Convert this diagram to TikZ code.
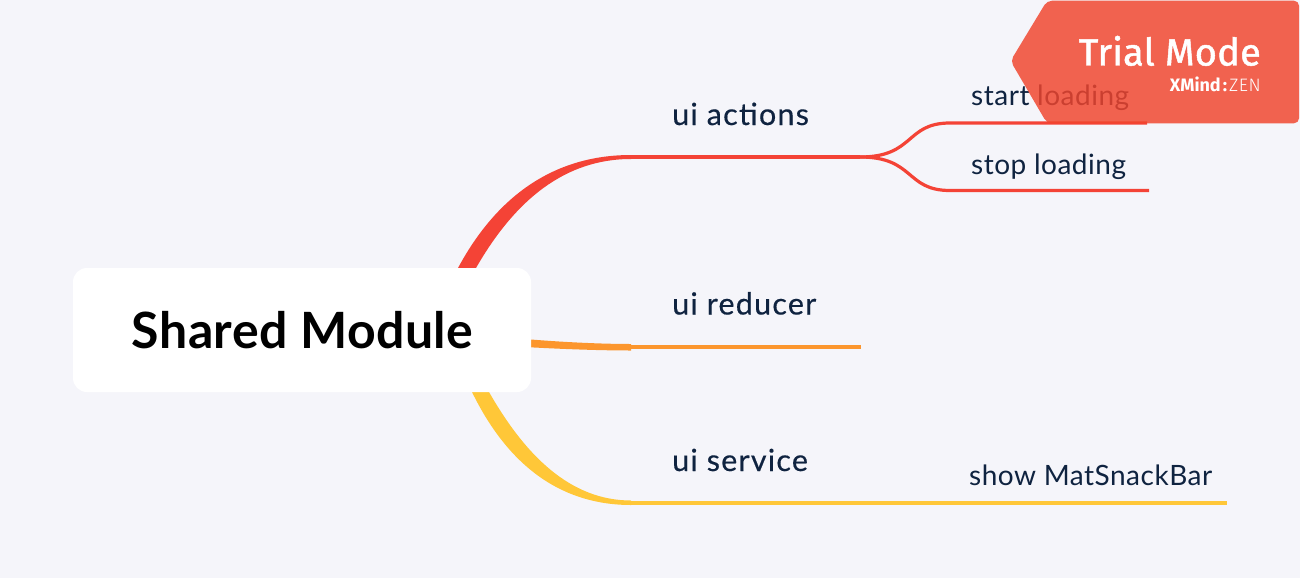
\documentclass[tikz,border=0pt]{standalone}
\usepackage{fontspec}
\setmainfont{Lato}
\newfontfamily\badgefont[FakeBold=1.3,LetterSpace=0.5]{Fira Sans}
\newfontfamily\topicfont[FakeBold=0.35,LetterSpace=4]{Lato}
\newfontfamily\subfont[LetterSpace=1.8]{Lato}
\newfontfamily\rootfont[LetterSpace=0.8]{Lato}
\definecolor{bgc}{HTML}{F5F5FA}
\definecolor{inkc}{HTML}{0F2340}
\definecolor{redc}{HTML}{F44336}
\definecolor{orangec}{HTML}{FC962D}
\definecolor{yellowc}{HTML}{FFC738}
\definecolor{badgec}{HTML}{F1452D}
\tikzset{
  px/.style={x=1pt,y=-1pt},
  topic/.style={anchor=base west,inner sep=0pt,text=inkc,font=\topicfont\fontsize{30.5}{30.5}\selectfont},
  subtopic/.style={anchor=base west,inner sep=0pt,text=inkc,font=\subfont\fontsize{28}{28}\selectfont},
  branch/.style={line width=3.2pt,line cap=butt},
}
\begin{document}
\begin{tikzpicture}[px]
\useasboundingbox (0,0) rectangle (1300,578);
\fill[bgc] (0,0) rectangle (1300,578);
% junctions
\coordinate (j1) at (631,157);
\coordinate (j2) at (631,347);
\coordinate (j3) at (631,503);
\coordinate (e2) at (861,347);
\coordinate (e3) at (1227,503);
\coordinate (fork) at (860,157);
\coordinate (e1a) at (1147,123);
\coordinate (e1b) at (1149,190.5);
% tapered main branches
\fill[redc] (458,268) .. controls (500,190) and (560,155) .. (631,155)
  -- (631,159) .. controls (565,159) and (515,200) .. (476,268) -- cycle;
\fill[orangec] (525,339) .. controls (560,342) and (600,344) .. (631,344)
  -- (631,350.5) .. controls (600,350.5) and (560,349) .. (525,347) -- cycle;
\fill[yellowc] (472,392) .. controls (510,470) and (565,505) .. (631,505)
  -- (631,500.5) .. controls (570,500.5) and (525,455) .. (489,392) -- cycle;
% thin branches
\draw[redc,branch] (j1) -- (fork);
\draw[redc,branch] (fork) .. controls (915,157) and (905,123) .. (950,123) -- (e1a);
\draw[redc,branch] (fork) .. controls (915,157) and (905,190.5) .. (950,190.5) -- (e1b);
\draw[orangec,branch] (j2) -- (e2);
\draw[yellowc,branch] (j3) -- (e3);
% root
\node[draw=none,fill=white,rounded corners=14pt,minimum width=458pt,minimum height=124pt,inner sep=0pt,anchor=center] (root) at (302,330) {};
\node[anchor=base,inner sep=0pt,text=black,font=\fontsize{50}{50}\selectfont\rootfont\bfseries] (roottext) at (302.5,348) {Shared Module};
% labels
\node[topic] (t1) at (672,125) {ui actions};
\node[topic] (t2) at (672,314.5) {ui reducer};
\node[topic] (t3) at (672,471) {ui service};
\node[subtopic] (s1) at (971,105) {start loading};
\node[subtopic] (s2) at (971,174) {stop loading};
\node[subtopic] (s3) at (969,485) {show MatSnackBar};
% badge
\fill[badgec,opacity=.83,rounded corners=5pt] (1047,0.7) -- (1299,0.7) -- (1299,123.3) -- (1047,123.3) -- (1010.5,61) -- cycle;
\node[anchor=base east,inner sep=0pt,text=white,font=\badgefont\fontsize{38}{38}\selectfont] (trial) at (1261,65.5) {Trial Mode};
\node[anchor=base east,inner sep=0pt,text=white,font=\fontsize{18}{18}\selectfont] (xmind) at (1261,92) {{\fontspec{Fira Sans}\bfseries XMind\kern2pt:\kern2pt}{\fontspec[LetterSpace=3]{Fira Sans Light}ZEN}};
\end{tikzpicture}
\end{document}
